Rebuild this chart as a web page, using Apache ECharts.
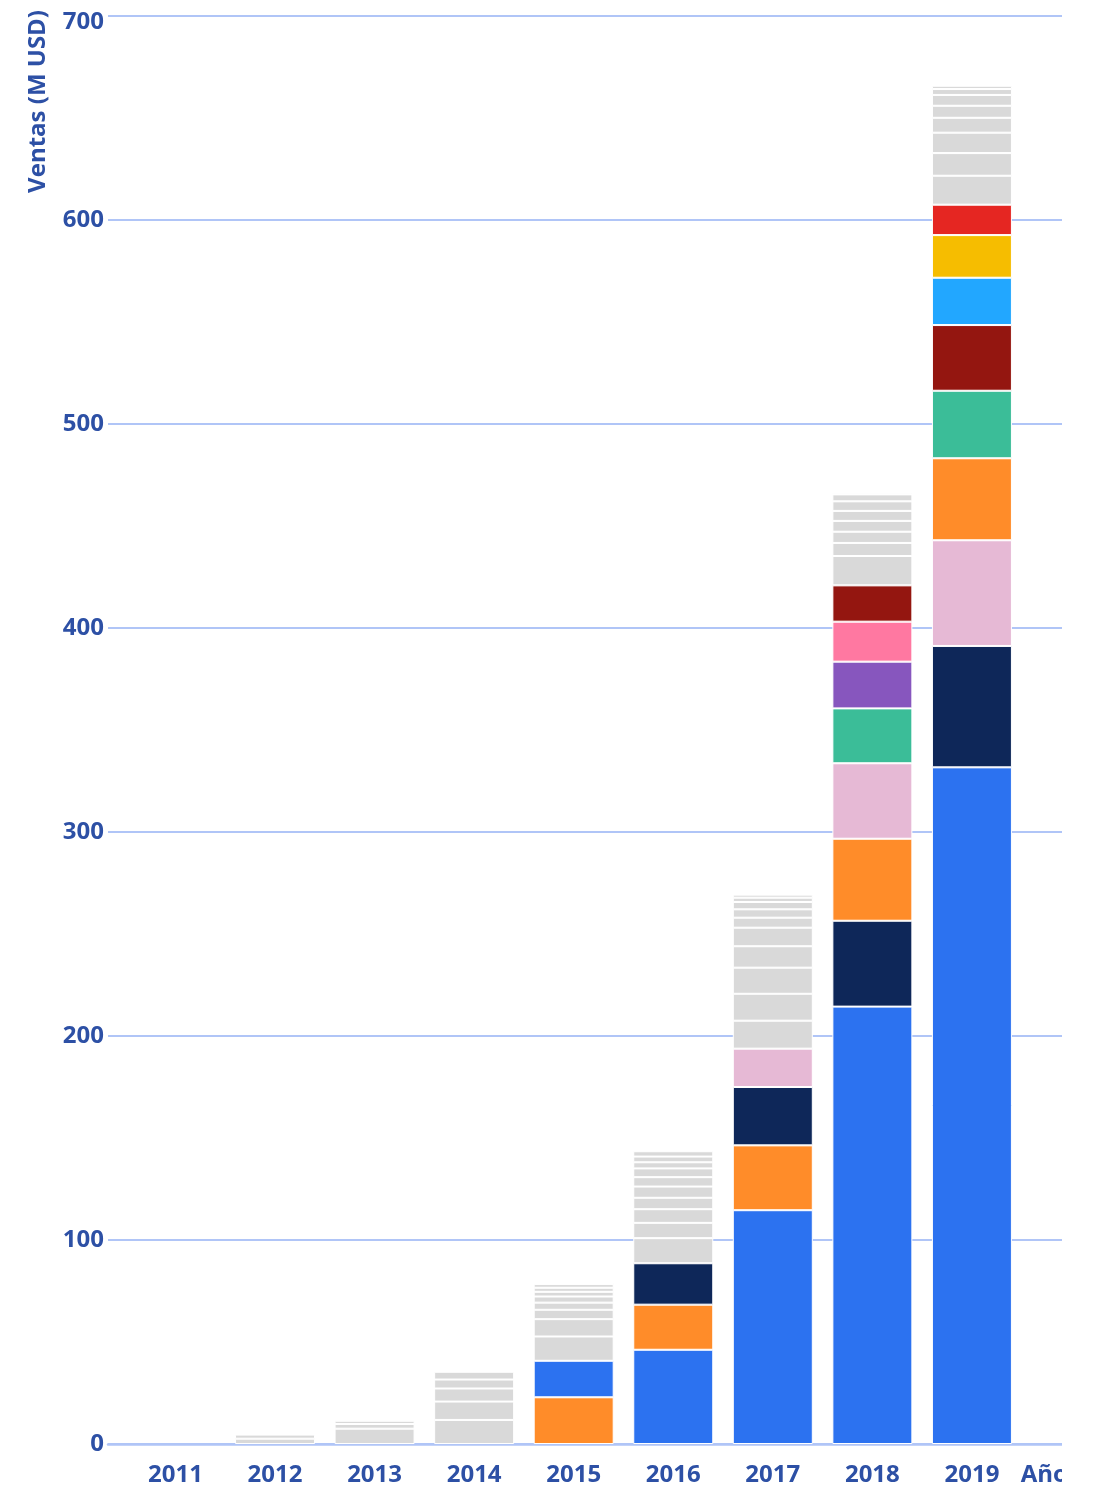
<!DOCTYPE html>
<html>
<head>
<meta charset="utf-8">
<script src="https://cdn.jsdelivr.net/npm/echarts@6/dist/echarts.min.js"></script>
<style>
  html, body { margin: 0; padding: 0; background: #ffffff; }
  #frame { width: 1062px; height: 1488px; overflow: hidden; position: relative; }
  #chart { width: 1180px; height: 1488px; }
</style>
</head>
<body>
<div id="frame"><div id="chart"></div></div>
<script>
// Ventas anuales (M USD) por empresa; cada barra se apila de mayor a menor.
const years = ['2011', '2012', '2013', '2014', '2015', '2016', '2017', '2018', '2019'];
const yTicks = [0, 100, 200, 300, 400, 500, 600, 700];

// Empresas principales (0 = sin ventas ese año)
const azul      = [0, 0, 0, 0, 17.9, 46.2, 114.6, 214.4, 331.7];
const naranja   = [0, 0, 0, 0, 22.9, 22.1, 31.8, 40.2, 40.2];
const marino    = [0, 0, 0, 0, 0, 20.3, 28.6, 42.1, 59.5];
const rosaClaro = [0, 0, 0, 0, 0, 0, 18.8, 37.0, 51.8];
const verde     = [0, 0, 0, 0, 0, 0, 0, 26.9, 33.1];
const morado    = [0, 0, 0, 0, 0, 0, 0, 22.9, 0];
const rosa      = [0, 0, 0, 0, 0, 0, 0, 19.6, 0];
const granate   = [0, 0, 0, 0, 0, 0, 0, 17.8, 32.2];
const celeste   = [0, 0, 0, 0, 0, 0, 0, 0, 23.2];
const amarillo  = [0, 0, 0, 0, 0, 0, 0, 0, 20.9];
const rojo      = [0, 0, 0, 0, 0, 0, 0, 0, 14.9];

// Resto de empresas, por año
const otros2011 = [];
const otros2012 = [2.6, 2.0];
const otros2013 = [7.5, 2.3, 1.6, 0.6, 0.5, 0.4, 0.3];
const otros2014 = [11.8, 9.0, 6.4, 4.4, 3.8, 0.5, 0.3, 0.2];
const otros2015 = [11.9, 8.5, 4.6, 3.5, 3.0, 2.3, 2.0, 1.8, 0.6, 0.5, 0.4, 0.3];
const otros2016 = [12.3, 7.5, 6.7, 5.6, 5.5, 4.6, 4.3, 3.0, 2.8, 2.6, 0.5, 0.3];
const otros2017 = [13.7, 13.2, 12.8, 10.5, 9.1, 4.9, 4.1, 3.6, 2.1, 1.5];
const otros2018 = [14.4, 6.4, 5.5, 5.3, 4.9, 4.7, 3.4, 0.5];
const otros2019 = [14.2, 11.1, 10.0, 7.3, 5.9, 5.3, 2.9, 1.6];

const principales = [
  { data: azul,      color: '#2c72f0' },
  { data: naranja,   color: '#ff8c29' },
  { data: marino,    color: '#0e2759' },
  { data: rosaClaro, color: '#e6b9d5' },
  { data: verde,     color: '#3bbd98' },
  { data: morado,    color: '#8756be' },
  { data: rosa,      color: '#ff78a1' },
  { data: granate,   color: '#941610' },
  { data: celeste,   color: '#22a7ff' },
  { data: amarillo,  color: '#f6bd00' },
  { data: rojo,      color: '#e52622' }
];
const otros = [otros2011, otros2012, otros2013, otros2014, otros2015, otros2016, otros2017, otros2018, otros2019];
const grisOtros = '#d9d9d9';

const labelColor = '#2d50a5';
const lineColor = '#b0c5f7';
const font = '"Open Sans", "Noto Sans", sans-serif';
const fontSize = 24;

// Segmentos de cada año ordenados de mayor a menor
const stacks = years.map((y, i) => {
  const segs = principales
    .filter(p => p.data[i] > 0)
    .map(p => ({ value: p.data[i], color: p.color }));
  segs.sort((a, b) => b.value - a.value);
  const rest = otros[i].map(v => ({ value: v, color: grisOtros }));
  rest.sort((a, b) => b.value - a.value);
  return segs.concat(rest);
});
const depth = Math.max(...stacks.map(s => s.length));

const series = [];
for (let k = 0; k < depth; k++) {
  series.push({
    type: 'bar',
    xAxisIndex: 1,
    yAxisIndex: 1,
    stack: 'ventas',
    barWidth: 80,
    animation: false,
    itemStyle: { borderColor: '#ffffff', borderWidth: 1 },
    data: stacks.map(s => s[k]
      ? { value: s[k].value, itemStyle: { color: s[k].color } }
      : '-')
  });
}

const labelMargin = 19;
const chart = echarts.init(document.getElementById('chart'), null, { renderer: 'canvas' });
chart.setOption({
  animation: false,
  backgroundColor: '#ffffff',
  grid: [
    { left: 108, right: 0, top: 16, bottom: 44 },
    { left: 125.7, width: 896, top: 16, bottom: 44 }
  ],
  xAxis: [
    {
      gridIndex: 0, type: 'value', min: 0, max: 1,
      axisLine: { show: true, lineStyle: { color: lineColor, width: 2.5 } },
      axisTick: { show: false }, axisLabel: { show: false }, splitLine: { show: false }
    },
    {
      gridIndex: 1, type: 'category', data: years,
      axisLine: { show: false }, axisTick: { show: false },
      axisLabel: {
        margin: labelMargin, color: labelColor, fontFamily: font,
        fontWeight: 'bold', fontSize: fontSize, lineHeight: fontSize
      },
      name: 'Año', nameLocation: 'end', nameGap: -1,
      nameTextStyle: {
        color: labelColor, fontFamily: font, fontWeight: 'bold', fontSize: fontSize,
        lineHeight: fontSize, verticalAlign: 'top', padding: [labelMargin, 0, 0, 0]
      }
    }
  ],
  yAxis: [
    {
      gridIndex: 0, type: 'value', min: yTicks[0], max: yTicks[yTicks.length - 1], interval: 100,
      axisLine: { show: false }, axisTick: { show: false },
      splitLine: { show: true, lineStyle: { color: lineColor, width: 2 } },
      axisLabel: {
        margin: 4, color: labelColor, fontFamily: font, fontWeight: 'bold', fontSize: fontSize,
        formatter: v => (v === yTicks[yTicks.length - 1] ? '{top|' + v + '}' : String(v)),
        rich: {
          top: {
            color: labelColor, fontFamily: font, fontWeight: 'bold', fontSize: fontSize,
            padding: [12, 0, 0, 0]
          }
        }
      }
    },
    {
      gridIndex: 1, type: 'value', min: yTicks[0], max: yTicks[yTicks.length - 1], interval: 100,
      show: false, splitLine: { show: false }
    }
  ],
  graphic: [
    {
      type: 'text', x: 38, y: 10, rotation: Math.PI / 2,
      style: {
        text: 'Ventas (M USD)', fill: labelColor,
        font: 'bold 24px ' + font, textAlign: 'right', textVerticalAlign: 'middle'
      }
    }
  ],
  series: series
});
</script>
</body>
</html>
